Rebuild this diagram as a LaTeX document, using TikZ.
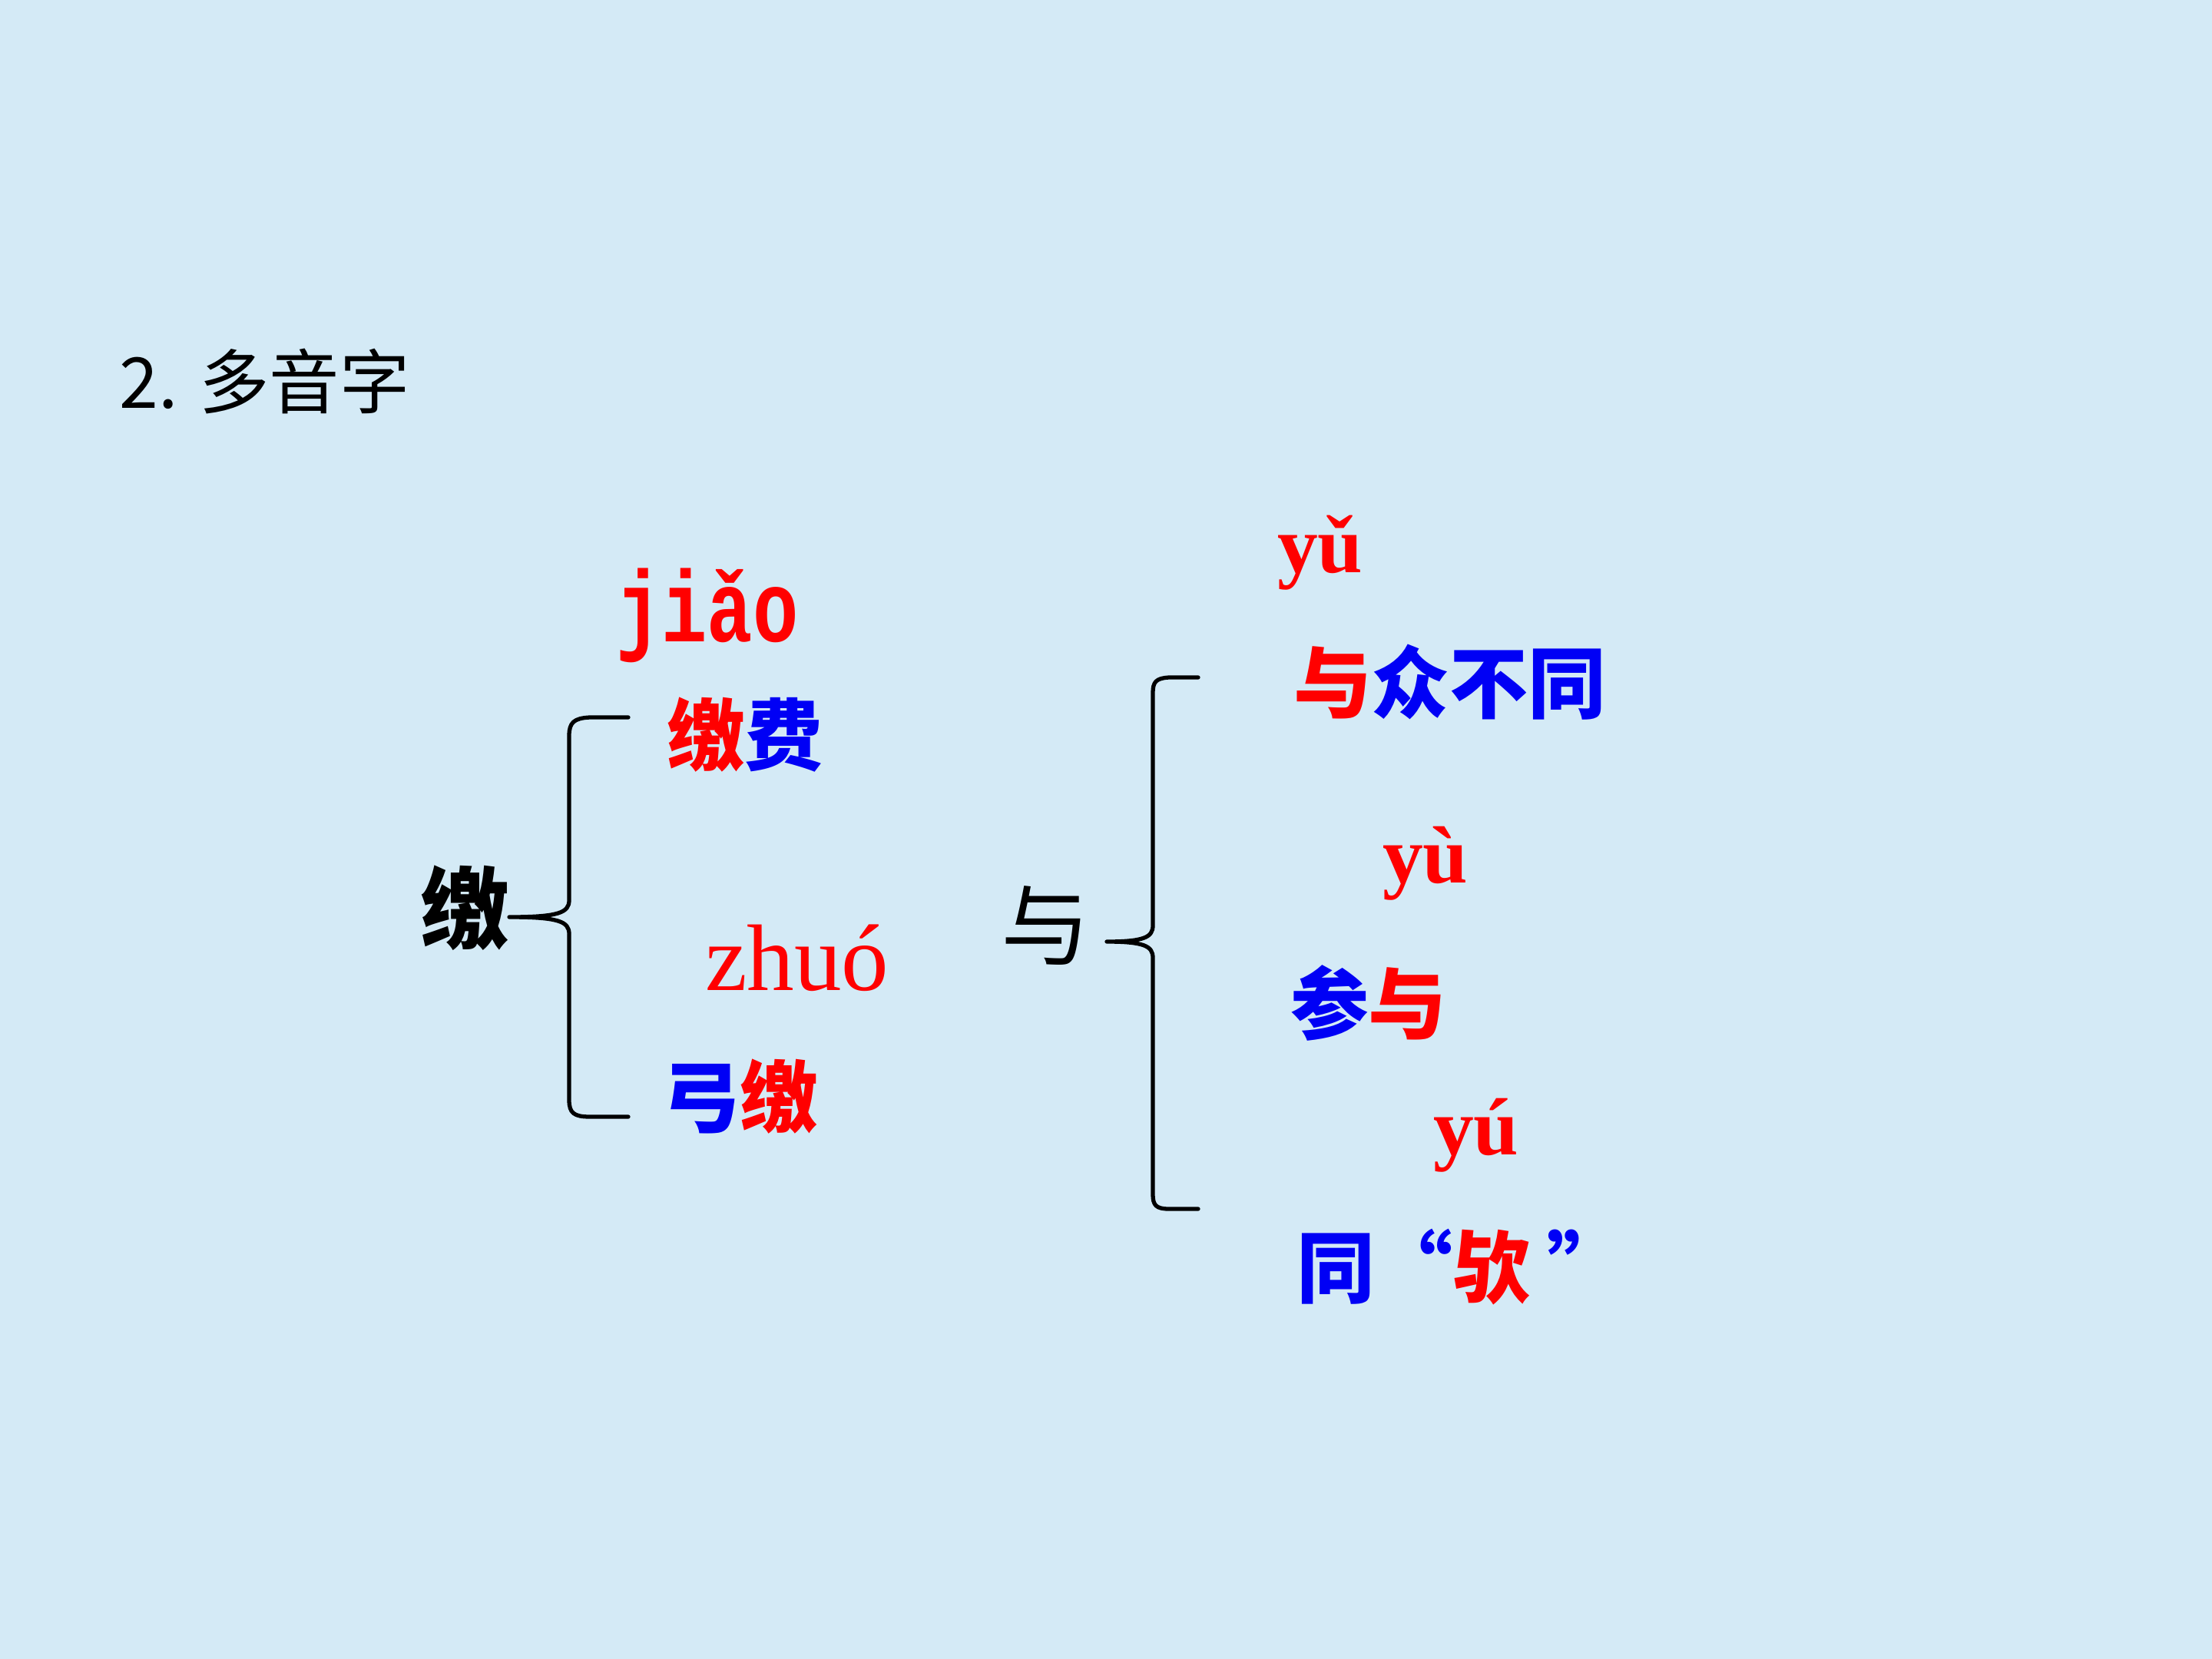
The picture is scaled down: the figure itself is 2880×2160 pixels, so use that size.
\documentclass[tikz,border=0pt]{standalone}
\usepackage{fontspec}
\newfontfamily\cjk{Noto Sans CJK SC}
\newfontfamily\pyserif{Liberation Serif}
\newfontfamily\pymono[FakeStretch=0.75]{Liberation Mono}
\definecolor{bgblue}{RGB}{212,234,246}
\definecolor{pyred}{RGB}{255,0,0}
\definecolor{hzblue}{RGB}{0,0,245}
\tikzset{
  txt/.style={inner sep=0pt, outer sep=0pt},
  hz/.style={txt, anchor=west, font=\cjk\bfseries\fontsize{29pt}{29pt}\selectfont},
  head/.style={txt, anchor=west, font=\cjk\bfseries\fontsize{33pt}{33pt}\selectfont, text=black},
  py/.style={txt, anchor=base west, text=pyred, font=\pyserif\bfseries\fontsize{30pt}{30pt}\selectfont},
  brace/.style={draw=black, line width=1.5pt, line cap=round, line join=round}
}
\begin{document}
\begin{tikzpicture}[x=0.01cm,y=-0.01cm]
\fill[bgblue] (0,0) rectangle (2880,2160);
\useasboundingbox (0,0) rectangle (2880,2160);

% title
\node[txt, anchor=west, font=\cjk\fontsize{26pt}{26pt}\selectfont] (title) at (156,496) {2. 多音字};

% left group
\node[head] (jiao) at (547,1182) {缴};
\node[txt, anchor=base west, text=pyred, font=\pymono\bfseries\fontsize{37.5pt}{37.5pt}\selectfont] (pyjiao) at (802,835) {jiǎo};
\node[hz] (jiaofei) at (868,957) {\textcolor{pyred}{缴}\textcolor{hzblue}{费}};
\node[txt, anchor=base west, text=pyred, font=\pyserif\fontsize{35pt}{35pt}\selectfont] (pyzhuo) at (918,1289) {zhuó};
\node[hz] (gongzhuo) at (862,1428) {\textcolor{hzblue}{弓}\textcolor{pyred}{缴}};

\coordinate (lb1) at (818,934);
\coordinate (lb2) at (818,1454);
\draw[brace] (lb1) -- (768,934) .. controls (747,935) and (741,941) .. (741,958)
  -- (741,1172) .. controls (741,1188) and (728,1194) .. (jiao.east |- 0,1194)
  (jiao.east |- 0,1194) .. controls (728,1194) and (741,1200) .. (741,1216)
  -- (741,1432) .. controls (741,1449) and (747,1454) .. (768,1454) -- (lb2);

% right group
\node[head, font=\cjk\fontsize{33pt}{33pt}\selectfont] (yu) at (1303,1205) {与};
\node[py] (pyyu3) at (1663,745) {yǔ};
\node[hz] (yuzhong) at (1684,888) {\textcolor{pyred}{与}\textcolor{hzblue}{众不同}};
\node[py] (pyyu4) at (1800,1149) {yù};
\node[hz] (canyu) at (1680,1306) {\textcolor{hzblue}{参}\textcolor{pyred}{与}};
\node[py] (pyyu2) at (1866,1503) {yú};
\node[hz] (tongyu) at (1688,1650) {\textcolor{hzblue}{同“}\textcolor{pyred}{欤}\hspace{0.2em}\textcolor{hzblue}{”}};

\coordinate (rb1) at (1560,882);
\coordinate (rb2) at (1560,1574);
\draw[brace] (rb1) -- (1522,882) .. controls (1505,883) and (1501,888) .. (1501,902)
  -- (1501,1205) .. controls (1501,1220) and (1490,1226) .. (1441,1226)
  .. controls (1490,1226) and (1501,1232) .. (1501,1247)
  -- (1501,1555) .. controls (1501,1569) and (1505,1574) .. (1522,1574) -- (rb2);
\end{tikzpicture}
\end{document}
